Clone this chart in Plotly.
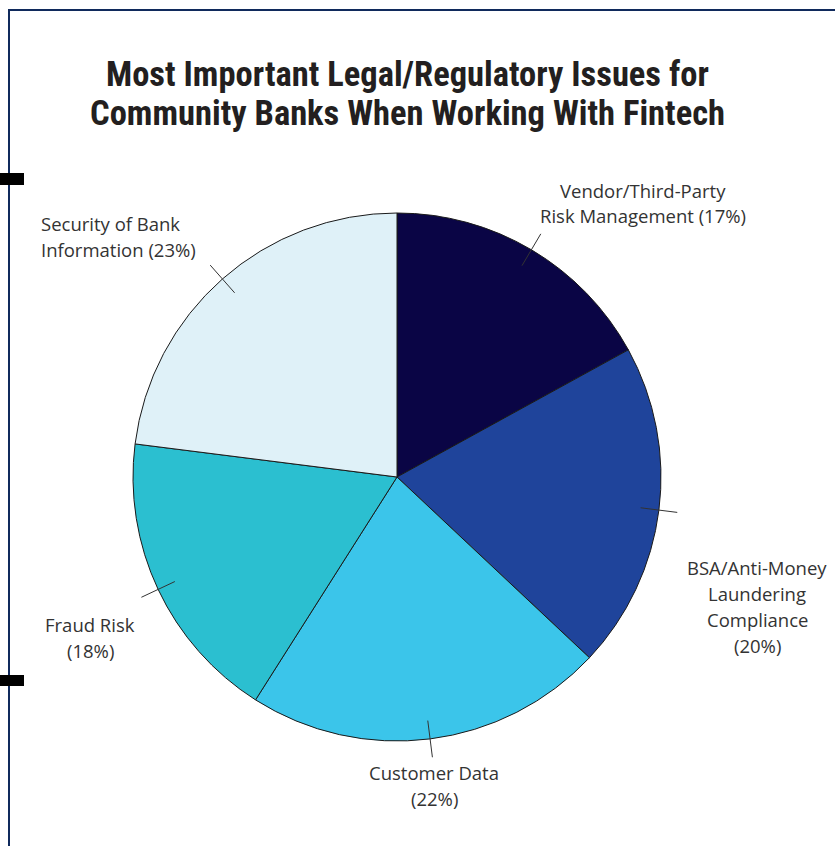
import math
import plotly.graph_objects as go

W, H = 835, 846

title_lines = ["Most Important Legal/Regulatory Issues for",
               "Community Banks When Working With Fintech"]
categories = ["Vendor/Third-Party Risk Management", "BSA/Anti-Money Laundering Compliance",
              "Customer Data", "Fraud Risk", "Security of Bank Information"]
values = [17, 20, 22, 18, 23]
label_lines = [["Vendor/Third-Party", "Risk Management (17%)"],
               ["BSA/Anti-Money", "Laundering", "Compliance", "(20%)"],
               ["Customer Data", "(22%)"],
               ["Fraud Risk", "(18%)"],
               ["Security of Bank", "Information (23%)"]]
colors = ["#0a0545", "#1f449b", "#3bc5ea", "#2bbfd0", "#dff1f8"]

# layout (pixels)
cx, cy, R = 397, 477, 264
label_pos = [(643, 190, "center"), (757, 567, "center"), (434, 772, "center"),
             (90, 624, "center"), (39, 223, "left")]
LINE = 26


def px(x):
    return x / W


def py(y):
    return 1 - y / H


fig = go.Figure()
fig.add_trace(go.Pie(
    labels=categories, values=values, sort=False, direction="clockwise", rotation=0,
    marker=dict(colors=colors, line=dict(color="#1a1a1a", width=1)),
    textinfo="none", hoverinfo="label+percent", showlegend=False,
    domain=dict(x=[px(cx - R), px(cx + R)], y=[py(cy + R), py(cy - R)]),
))

shapes = []
total = sum(values)
cum = 0
for v in values:
    mid = (cum + v / 2) / total * 2 * math.pi
    cum += v
    sx, sy = math.sin(mid), -math.cos(mid)
    r0, r1 = R * 0.93, R * 1.07
    shapes.append(dict(type="line", xref="paper", yref="paper",
                       x0=px(cx + sx * r0), y0=py(cy + sy * r0),
                       x1=px(cx + sx * r1), y1=py(cy + sy * r1),
                       line=dict(color="#333333", width=1)))

# frame
shapes.append(dict(type="line", xref="paper", yref="paper", x0=px(9), x1=px(9), y0=py(10), y1=0,
                   line=dict(color="#102a5c", width=2)))
shapes.append(dict(type="line", xref="paper", yref="paper", x0=px(8), x1=1, y0=py(10), y1=py(10),
                   line=dict(color="#102a5c", width=2)))
for y0, y1 in [(173, 185), (675, 686)]:
    shapes.append(dict(type="rect", xref="paper", yref="paper", x0=0, x1=px(24), y0=py(y1), y1=py(y0),
                       fillcolor="#000000", line=dict(width=0)))

annotations = []
for lines, (x, y, al) in zip(label_lines, label_pos):
    for i, t in enumerate(lines):
        annotations.append(dict(text=t, x=px(x), y=py(y + i * LINE), xref="paper", yref="paper",
                                showarrow=False, xanchor="left" if al == "left" else "center",
                                yanchor="middle", align=al,
                                font=dict(family="Open Sans, Lato, sans-serif", size=18.5, color="#333333")))
for i, t in enumerate(title_lines):
    annotations.append(dict(text="<b>" + t + "</b>", x=px(407), y=py(74 + i * 39),
                            xref="paper", yref="paper", showarrow=False, xanchor="center", yanchor="middle",
                            font=dict(family="Roboto Condensed, Liberation Sans Narrow, sans-serif",
                                      size=34.5, color="#231f20")))

fig.update_layout(width=W, height=H, margin=dict(l=0, r=0, t=0, b=0),
                  paper_bgcolor="white", plot_bgcolor="white",
                  shapes=shapes, annotations=annotations)
fig.write_html("out.html", config={"displayModeBar": False},
               post_script="document.body.style.margin='0';")
